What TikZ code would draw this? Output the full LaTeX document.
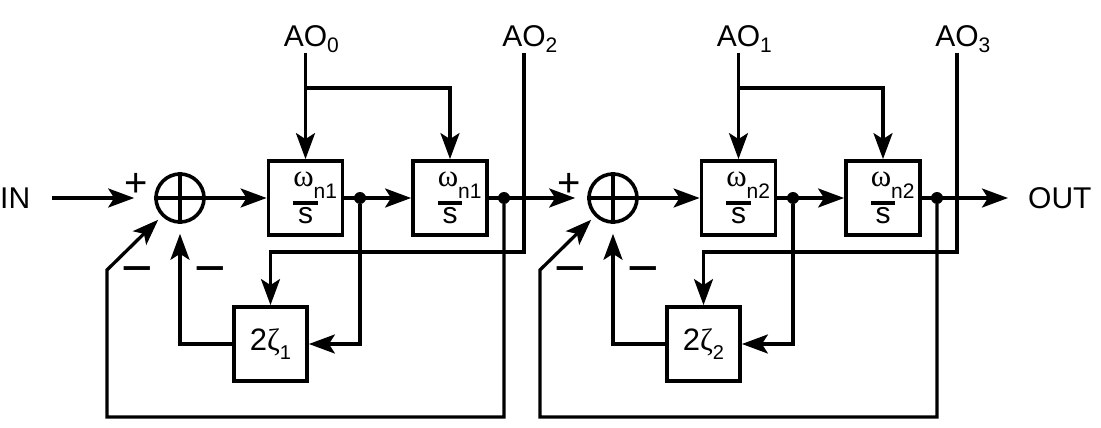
\documentclass[tikz,border=0pt]{standalone}
\usepackage{fontspec}
\setmainfont{Liberation Sans}
\newfontfamily\grk{Liberation Serif}
\usetikzlibrary{arrows.meta}
\newcommand\wfr[1]{$\textstyle{\hbox{\grk\fontsize{31}{31}\selectfont ω\rlap{\raisebox{-12pt}{\rmfamily\fontsize{21}{21}\selectfont n#1}}\kern4pt}\above 3.2pt\hbox{\fontsize{30}{30}\selectfont s}}$}
\newcommand\zt[1]{2{\grk ζ}\raisebox{-9pt}{\fontsize{20}{20}\selectfont #1}}
\newcommand\ao[1]{AO\rlap{\raisebox{-6pt}{\fontsize{21}{21}\selectfont #1}}}
\tikzset{
  lbl/.style={font=\fontsize{30}{36}\selectfont, inner sep=0pt},
  blk/.style={draw, line width=3.8pt, minimum width=74pt, minimum height=74pt, inner sep=0pt, font=\fontsize{31}{36}\selectfont},
  sumc/.style={draw, circle, line width=3.6pt, minimum size=48pt, inner sep=0pt},
  jdot/.style={circle, fill, minimum size=12pt, inner sep=0pt},
  arr/.style={-{Stealth[length=26pt,width=19pt,inset=6pt]}},
  wire/.style={line width=3.3pt},
  mn/.style={font=\fontsize{54}{54}\selectfont, inner sep=0pt},
  pl/.style={font=\fontsize{40}{40}\selectfont, inner sep=0pt}
}
\begin{document}
\begin{tikzpicture}[x=1pt,y=-1pt]
\useasboundingbox (0,0) rectangle (1101,428);
\coordinate (ya) at (0,88);
\coordinate (yb) at (0,252);
\coordinate (yc) at (0,417);
% stage 1
\node[lbl, anchor=west] (inp) at (0,198) {IN};
\node[sumc] (sum1) at (180,198) {};
\node[blk] (b11) at (305.5,198) {\wfr{1}};
\node[jdot] (d11) at (360,198) {};
\node[blk] (b12) at (450,198) {\wfr{1}};
\node[jdot] (d12) at (504,198) {};
\node[blk, minimum width=73pt] (z1) at (270.5,344) {\zt{1}};
\node[lbl, anchor=south] (ao0) at (305.5,53) {\ao{0}};
\node[lbl, anchor=south] (ao2) at (524,53) {\ao{2}};
\node[pl] (p1) at (136,185) {+};
\node[mn] (m1) at (137,277) {−};
\node[mn] (m2) at (210,277) {−};
\coordinate (c1) at (107,270);
% stage 2
\node[sumc] (sum2) at (613,198) {};
\node[blk] (b21) at (738.5,198) {\wfr{2}};
\node[jdot] (d21) at (793,198) {};
\node[blk] (b22) at (883,198) {\wfr{2}};
\node[jdot] (d22) at (937,198) {};
\node[blk, minimum width=73pt] (z2) at (703.5,344) {\zt{2}};
\node[lbl, anchor=south] (ao1) at (738.5,53) {\ao{1}};
\node[lbl, anchor=south] (ao3) at (957,53) {\ao{3}};
\node[pl] (p2) at (569,185) {+};
\node[mn] (m3) at (570,277) {−};
\node[mn] (m4) at (643,277) {−};
\coordinate (c2) at (540,270);
\node[lbl, anchor=west] (out) at (1028,198) {OUT};
% crosses in summers
\draw[wire] (sum1.north) -- (sum1.south) (sum1.west) -- (sum1.east);
\draw[wire] (sum2.north) -- (sum2.south) (sum2.west) -- (sum2.east);
% stage 1 wires
\draw[wire, arr, shorten <=22pt, shorten >=20pt] (inp.east) -- (sum1.west);
\draw[wire, arr] (sum1.east) -- (b11.west);
\draw[wire, arr] (b11.east) -- (b12.west);
\draw[wire, arr, shorten >=12pt] (b12.east) -- (sum2.west);
\draw[wire, arr] (ao0.south) -- (b11.north);
\draw[wire, arr] (ao0.south |- ya) -| (b12.north);
\draw[wire, arr] (ao2.south) -- (ao2.south |- yb) -| (z1.north);
\draw[wire, arr] (d11) |- (z1.east);
\draw[wire, arr, shorten >=10pt] (z1.west) -| (sum1.south);
\draw[wire, arr, shorten >=5pt] (d12) -- (d12 |- yc) -| (c1) -- (sum1.south west);
% stage 2 wires
\draw[wire, arr] (sum2.east) -- (b21.west);
\draw[wire, arr] (b21.east) -- (b22.west);
\draw[wire, arr, shorten >=20pt] (b22.east) -- (out.west);
\draw[wire, arr] (ao1.south) -- (b21.north);
\draw[wire, arr] (ao1.south |- ya) -| (b22.north);
\draw[wire, arr] (ao3.south) -- (ao3.south |- yb) -| (z2.north);
\draw[wire, arr] (d21) |- (z2.east);
\draw[wire, arr, shorten >=10pt] (z2.west) -| (sum2.south);
\draw[wire, arr, shorten >=5pt] (d22) -- (d22 |- yc) -| (c2) -- (sum2.south west);
\end{tikzpicture}
\end{document}
